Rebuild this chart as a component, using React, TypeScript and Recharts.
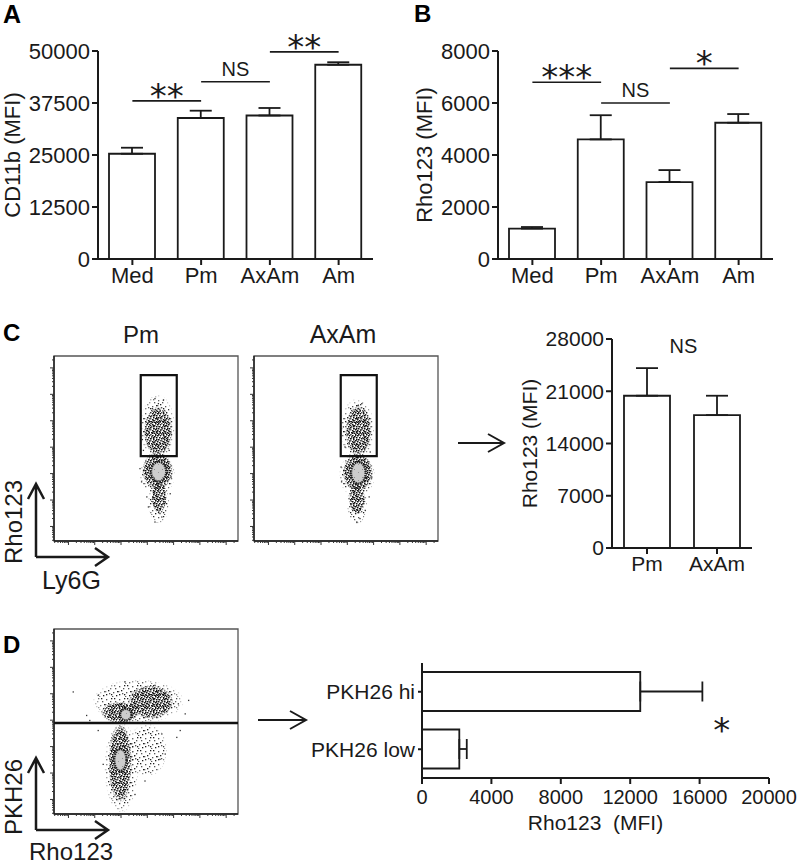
import React from 'react';
import {
  BarChart, Bar, XAxis, YAxis, ErrorBar, ReferenceLine, ReferenceArea,
  ScatterChart, Scatter,
} from 'recharts';

const FONT = '"Liberation Sans", Arial, sans-serif';
const STAR_FONT = '"DejaVu Sans", sans-serif';
const INK = '#1a1a1a';

// A - CD11b MFI
const groups = ['Med', 'Pm', 'AxAm', 'Am'];
const cd11bMean = [25300, 33900, 34500, 46700];
const cd11bSem = [1450, 1750, 1800, 600];
const cd11bTicks = [0, 12500, 25000, 37500, 50000];
const sigA = [['Med', 'Pm', 38000, '**'], ['Pm', 'AxAm', 42600, 'NS'], ['AxAm', 'Am', 49800, '**']];

// B - Rho123 MFI
const rhoMean = [1170, 4600, 2960, 5240];
const rhoSem = [60, 930, 460, 335];
const rhoTicks = [0, 2000, 4000, 6000, 8000];
const sigB = [['Med', 'Pm', 6800, '***'], ['Pm', 'AxAm', 6000, 'NS'], ['AxAm', 'Am', 7330, '*']];

// C - gated Ly6G+ Rho123 hi cells
const gatedGroups = ['Pm', 'AxAm'];
const gatedMean = [20400, 17800];
const gatedSem = [3700, 2600];
const gatedTicks = [0, 7000, 14000, 21000, 28000];

// D - PKH26 hi / low
const pkhGroups = ['PKH26 hi', 'PKH26 low'];
const pkhMean = [12580, 2150];
const pkhSem = [3580, 430];
const pkhTicks = [0, 4000, 8000, 12000, 16000, 20000];

// flow plots, log decades; clouds are [x1, x2, y1, y2] in decades
const flowDomain = [-0.55, 6.45];
const decades = [0, 1, 2, 3, 4, 5, 6];
const pmGate = [2.75, 4.12, 2.66, 5.73];
const pmSparse = [[2.72, 4.06, 2.50, 5.00], [2.70, 4.06, 1.15, 2.80], [3.02, 3.84, 0.10, 1.70]];
const pmDense = [[2.86, 3.96, 2.66, 4.55], [2.80, 3.98, 1.40, 2.82], [3.15, 3.74, 0.50, 1.70]];
const pmCore = [[3.14, 3.72, 1.70, 2.45]];
const pmEvents = [
  [3.29, 4.84], [3.61, 4.78], [3.42, 4.65], [3.19, 4.46], [2.81, 3.29], [2.85, 2.88],
  [2.72, 2.19], [2.78, 1.69], [3.90, 1.87], [3.83, 2.88], [3.29, 0.86], [3.48, 0.49],
  [3.29, 0.17], [3.55, 0.36], [3.87, 1.24], [2.98, 1.12], [3.04, 0.74], [3.68, 0.93],
];
const axGate = [2.75, 4.12, 2.66, 5.73];
const axSparse = [[2.72, 4.04, 2.50, 4.85], [2.68, 4.06, 1.10, 2.80], [2.98, 3.76, 0.06, 1.70]];
const axDense = [[2.92, 3.93, 2.66, 4.58], [2.82, 3.98, 1.32, 2.78], [3.06, 3.68, 0.45, 1.60]];
const axCore = [[3.14, 3.70, 1.62, 2.44]];
const axEvents = [
  [3.42, 4.59], [3.55, 4.65], [3.19, 4.27], [2.85, 3.77], [2.91, 3.01], [2.76, 2.25],
  [2.78, 1.69], [3.93, 1.87], [3.87, 2.82], [3.36, 0.17], [3.48, 0.30], [3.17, 0.74],
  [3.68, 0.61], [3.83, 1.12],
];
const pkhCut = 2.89;
const dSparse = [[0.90, 4.40, 2.88, 4.55], [1.36, 2.66, -0.52, 2.94], [2.22, 3.76, 0.85, 2.88]];
const dDense = [[1.24, 2.66, 2.88, 3.70], [2.26, 4.00, 3.05, 4.34], [1.52, 2.42, -0.14, 2.88]];
const dCore = [[1.96, 2.40, 2.99, 3.43], [1.74, 2.21, 1.08, 1.91]];
const dEvents = [
  [0.18, 4.07], [0.69, 3.18], [0.81, 2.99], [1.13, 3.94], [4.44, 3.24], [4.57, 3.75],
  [4.18, 3.62], [4.25, 2.61], [4.12, 2.35], [3.48, 1.52], [3.68, 1.72], [2.91, 0.70],
  [2.53, 0.19], [1.13, 2.61], [1.32, 1.33], [3.55, 2.48], [2.15, 4.45], [3.29, 4.32],
];

const flowMinor = [-1, ...decades]
  .flatMap((d) => [2, 3, 4, 5, 6, 7, 8, 9].map((m) => d + Math.log10(m)))
  .filter((v) => v > flowDomain[0] && v < flowDomain[1]);
const flowTicks = [...decades, ...flowMinor].sort((a, b) => a - b);

const axisStyle = { stroke: INK, strokeWidth: 2 };
const tickFont = (size: number) => ({ fontSize: size, fill: INK, fontFamily: FONT });

// speckle textures for the dot clouds
const denseDots = [
  [0, 0], [2, 1], [5, 0], [7, 1], [9, 3], [1, 3], [4, 2], [6, 3], [3, 5], [8, 5], [0, 6], [5, 6],
  [2, 7], [7, 7], [9, 8], [4, 8], [1, 9], [6, 9], [8, 0], [3, 3], [10, 6], [10, 1], [7, 10], [2, 10],
  [4, 10], [9, 10], [0, 4], [6, 5], [3, 8], [10, 9],
];
const sparseDots = [
  [1, 2], [6, 1], [10, 4], [3, 6], [8, 8], [1, 10], [5, 4], [11, 11], [7, 12], [12, 7],
  [4, 9], [9, 1], [0, 7], [6, 10],
];

const yTitle = (text: string, baseX: number, size: number) => ({
  content: (p: any) => {
    const vb = p.viewBox || {};
    const cy = (vb.y ?? 0) + (vb.height ?? 0) / 2;
    return (
      <text x={baseX} y={cy} transform={`rotate(-90 ${baseX} ${cy})`} textAnchor="middle"
        fontFamily={FONT} fontSize={size} fill={INK}>{text}</text>
    );
  },
});

const sigLabel = (mark: string) => (p: any) => {
  const vb = p.viewBox || {};
  const cx = (vb.x ?? 0) + (vb.width ?? 0) / 2;
  const star = mark.includes('*');
  return (
    <text x={cx} y={star ? vb.y + 7 : vb.y - 6} textAnchor="middle"
      fontFamily={star ? STAR_FONT : FONT} fontSize={star ? 34 : 20} fill={INK}>{mark}</text>
  );
};

const cloud = (fill: string, core: boolean) => (p: any) => (
  <ellipse cx={p.x + p.width / 2} cy={p.y + p.height / 2} rx={p.width / 2} ry={p.height / 2}
    fill={fill} mask={core ? undefined : 'url(#fadeMask)'}
    stroke={core ? '#222' : 'none'} strokeWidth={2.4} strokeDasharray={core ? '1.4 0.9' : undefined} />
);

const eventDot = (p: any) => <rect x={p.cx - 0.6} y={p.cy - 0.6} width={1.3} height={1.3} fill="#333" />;

const flowTickX = (p: any) => {
  const major = Number.isInteger(p.payload.value);
  return <line x1={p.x} x2={p.x} y1={p.y} y2={p.y + (major ? 4 : 2)} stroke="#333" strokeWidth={1} />;
};
const flowTickY = (p: any) => {
  const major = Number.isInteger(p.payload.value);
  return <line x1={p.x} x2={p.x - (major ? 4 : 2)} y1={p.y} y2={p.y} stroke="#333" strokeWidth={1} />;
};

const box = (b: number[]) => ({ x1: b[0], x2: b[1], y1: b[2], y2: b[3] });

function FlowPlot({ left, top, sparse, dense, core, events, gate, cut }: any) {
  const pts = events.map(([x, y]: number[]) => ({ x, y }));
  return (
    <div style={{ position: 'absolute', left, top }}>
      <ScatterChart width={200} height={200} margin={{ top: 10, right: 2, bottom: 0, left: 0 }}>
        <XAxis type="number" dataKey="x" domain={flowDomain} ticks={flowTicks} interval={0} allowDataOverflow
          height={5} tickSize={0} tickMargin={0} tickLine={false} axisLine={{ stroke: INK, strokeWidth: 1.4 }} tick={flowTickX} />
        <YAxis type="number" dataKey="y" domain={flowDomain} ticks={flowTicks} interval={0} allowDataOverflow
          width={14} tickSize={0} tickMargin={0} tickLine={false} axisLine={{ stroke: INK, strokeWidth: 1.4 }} tick={flowTickY} />
        {sparse.map((b: number[], i: number) => (
          <ReferenceArea key={'s' + i} {...box(b)} ifOverflow="visible" shape={cloud('url(#speckSparse)', false)} />
        ))}
        {dense.map((b: number[], i: number) => (
          <ReferenceArea key={'d' + i} {...box(b)} ifOverflow="visible" shape={cloud('url(#speckDense)', false)} />
        ))}
        {core.map((b: number[], i: number) => (
          <ReferenceArea key={'c' + i} {...box(b)} ifOverflow="visible" shape={cloud('url(#speckCore)', true)} />
        ))}
        <Scatter data={pts} shape={eventDot} isAnimationActive={false} />
        <ReferenceArea x1={flowDomain[0]} x2={flowDomain[1]} y1={flowDomain[0]} y2={flowDomain[1]}
          fill="none" stroke="#555" strokeWidth={1.3} ifOverflow="visible" />
        {gate && <ReferenceArea {...box(gate)} fill="none" stroke="#111" strokeWidth={2.2} ifOverflow="visible" />}
        {cut != null && <ReferenceLine y={cut} stroke="#111" strokeWidth={2.5} />}
      </ScatterChart>
    </div>
  );
}

function GroupBars({ left, means, sems, ticks, title, titleX, sig }: any) {
  const data = groups.map((g, i) => ({ name: g, mean: means[i], err: [0, sems[i]] }));
  return (
    <div style={{ position: 'absolute', left, top: 0 }}>
      <BarChart width={400} height={300} data={data} margin={{ top: 51, right: 27, bottom: 11, left: 0 }}>
        <XAxis dataKey="name" type="category" height={30} tickSize={6} tickMargin={2} interval={0}
          axisLine={axisStyle} tickLine={axisStyle} tick={tickFont(22)} />
        <YAxis type="number" domain={[0, ticks[ticks.length - 1]]} ticks={ticks} interval={0} width={98}
          tickSize={6} tickMargin={2} axisLine={axisStyle} tickLine={axisStyle} tick={tickFont(22)}
          label={yTitle(title, titleX, 22)} />
        <Bar dataKey="mean" barSize={46} fill="#fff" stroke={INK} strokeWidth={1.8} isAnimationActive={false}>
          <ErrorBar dataKey="err" width={11} stroke={INK} strokeWidth={1.8} direction="y" isAnimationActive={false} />
        </Bar>
        {sig.map(([from, to, level, mark]: any) => (
          <ReferenceLine key={from + to} segment={[{ x: from, y: level }, { x: to, y: level }]}
            stroke={INK} strokeWidth={1.6} ifOverflow="visible" label={{ content: sigLabel(mark) }} />
        ))}
      </BarChart>
    </div>
  );
}

export default function App() {
  const gatedData = gatedGroups.map((g, i) => ({ name: g, mean: gatedMean[i], err: [0, gatedSem[i]] }));
  const pkhData = pkhGroups.map((g, i) => ({ name: g, mean: pkhMean[i], err: [0, pkhSem[i]] }));
  const txt = { fontFamily: FONT, fill: INK };

  return (
    <div style={{ position: 'absolute', left: 0, top: 0, width: 800, height: 866, background: '#fff', overflow: 'hidden' }}>
      <svg width={0} height={0} style={{ position: 'absolute' }}>
        <defs>
          <pattern id="speckDense" width={11} height={11} patternUnits="userSpaceOnUse">
            {denseDots.map(([x, y], i) => (
              <rect key={i} x={x} y={y} width={1.5} height={1.5} fill={i % 5 ? '#111' : '#555'} />
            ))}
          </pattern>
          <pattern id="speckSparse" width={13} height={13} patternUnits="userSpaceOnUse">
            {sparseDots.map(([x, y], i) => (
              <rect key={i} x={x} y={y} width={1.3} height={1.3} fill={i % 2 ? '#1e1e1e' : '#555'} />
            ))}
          </pattern>
          <pattern id="speckCore" width={8} height={8} patternUnits="userSpaceOnUse">
            <rect width={8} height={8} fill="#cdcdcd" />
            <rect x={2} y={3} width={1} height={1} fill="#8a8a8a" />
            <rect x={6} y={6} width={1} height={1} fill="#9a9a9a" />
          </pattern>
          <radialGradient id="fadeGrad" cx={0.5} cy={0.5} r={0.5}>
            <stop offset="0%" stopColor="#fff" />
            <stop offset="80%" stopColor="#fff" />
            <stop offset="100%" stopColor="#000" />
          </radialGradient>
          <mask id="fadeMask" maskContentUnits="objectBoundingBox">
            <rect width={1} height={1} fill="url(#fadeGrad)" />
          </mask>
        </defs>
      </svg>

      <GroupBars left={0} means={cd11bMean} sems={cd11bSem} ticks={cd11bTicks} title="CD11b (MFI)" titleX={20} sig={sigA} />
      <GroupBars left={400} means={rhoMean} sems={rhoSem} ticks={rhoTicks} title="Rho123 (MFI)" titleX={31.5} sig={sigB} />

      <FlowPlot left={40} top={346} sparse={pmSparse} dense={pmDense} core={pmCore} events={pmEvents} gate={pmGate} />
      <FlowPlot left={240} top={346} sparse={axSparse} dense={axDense} core={axCore} events={axEvents} gate={axGate} />
      <FlowPlot left={40} top={619} sparse={dSparse} dense={dDense} core={dCore} events={dEvents} cut={pkhCut} />

      <div style={{ position: 'absolute', left: 400, top: 300 }}>
        <BarChart width={400} height={320} data={gatedData} margin={{ top: 39, right: 48, bottom: 42, left: 0 }}>
          <XAxis dataKey="name" type="category" height={30} tickSize={6} tickMargin={2} interval={0}
            axisLine={axisStyle} tickLine={axisStyle} tick={tickFont(21)} />
          <YAxis type="number" domain={[0, 28000]} ticks={gatedTicks} interval={0} width={212}
            tickSize={6} tickMargin={2} axisLine={axisStyle} tickLine={axisStyle} tick={tickFont(21)}
            label={yTitle('Rho123 (MFI)', 136.5, 21)} />
          <Bar dataKey="mean" barSize={46} fill="#fff" stroke={INK} strokeWidth={1.8} isAnimationActive={false}>
            <ErrorBar dataKey="err" width={11} stroke={INK} strokeWidth={1.8} direction="y" isAnimationActive={false} />
          </Bar>
        </BarChart>
      </div>

      <div style={{ position: 'absolute', left: 290, top: 620 }}>
        <BarChart layout="vertical" width={510} height={246} data={pkhData} margin={{ top: 43, right: 31, bottom: 58, left: 0 }}>
          <XAxis type="number" domain={[0, 20000]} ticks={pkhTicks} interval={0} height={30} tickSize={6} tickMargin={6}
            axisLine={axisStyle} tickLine={axisStyle} tick={tickFont(20)}
            label={{
              content: (p: any) => {
                const vb = p.viewBox || {};
                return (
                  <text x={vb.x + vb.width / 2} y={vb.y + vb.height + 22} textAnchor="middle" fontFamily={FONT}
                    fontSize={21} fill={INK} style={{ whiteSpace: 'pre' }}>Rho123  (MFI)</text>
                );
              },
            }} />
          <YAxis type="category" dataKey="name" width={132} tickSize={4} tickMargin={3} interval={0}
            axisLine={axisStyle} tickLine={axisStyle} tick={tickFont(21)} />
          <Bar dataKey="mean" barSize={39} fill="#fff" stroke={INK} strokeWidth={1.8} isAnimationActive={false}>
            <ErrorBar dataKey="err" width={10} stroke={INK} strokeWidth={1.8} direction="x" isAnimationActive={false} />
          </Bar>
        </BarChart>
      </div>

      <svg width={800} height={866} style={{ position: 'absolute', left: 0, top: 0, pointerEvents: 'none' }}>
        <text x={3} y={23} fontFamily={FONT} fontWeight="bold" fontSize={25} fill="#000">A</text>
        <text x={414} y={22} fontFamily={FONT} fontWeight="bold" fontSize={24} fill="#000">B</text>
        <text x={3} y={341} fontFamily={FONT} fontWeight="bold" fontSize={24} fill="#000">C</text>
        <text x={3} y={653} fontFamily={FONT} fontWeight="bold" fontSize={24} fill="#000">D</text>

        <text x={141} y={343} textAnchor="middle" fontSize={24} {...txt}>Pm</text>
        <text x={343} y={343} textAnchor="middle" fontSize={25} {...txt}>AxAm</text>

        <g fill="none" stroke={INK} strokeWidth={2.5}>
          <path d="M36 557 V484 M28 499 L36 484 L44 499 M36 557 H108 M95 548 L108 557 L95 566" />
          <path d="M36 830 V758 M28 773 L36 758 L44 773 M36 830 H108 M95 821 L108 830 L95 839" />
        </g>
        <g fill="none" stroke={INK} strokeWidth={2}>
          <path d="M458 443 H504 M488 434 L504 443 L488 452" />
          <path d="M258 720 H306 M290 711 L306 720 L290 729" />
        </g>
        <text x={22} y={522} transform="rotate(-90 22 522)" textAnchor="middle" fontSize={24} {...txt}>Rho123</text>
        <text x={42} y={589} fontSize={25} {...txt}>Ly6G</text>
        <text x={22} y={797} transform="rotate(-90 22 797)" textAnchor="middle" fontSize={24} {...txt}>PKH26</text>
        <text x={29} y={860} fontSize={24} {...txt}>Rho123</text>

        <text x={683.5} y={353} textAnchor="middle" fontSize={20} {...txt}>NS</text>
        <text x={721.7} y={742} textAnchor="middle" fontSize={34} fontFamily={STAR_FONT} fill={INK}>*</text>
      </svg>
    </div>
  );
}
